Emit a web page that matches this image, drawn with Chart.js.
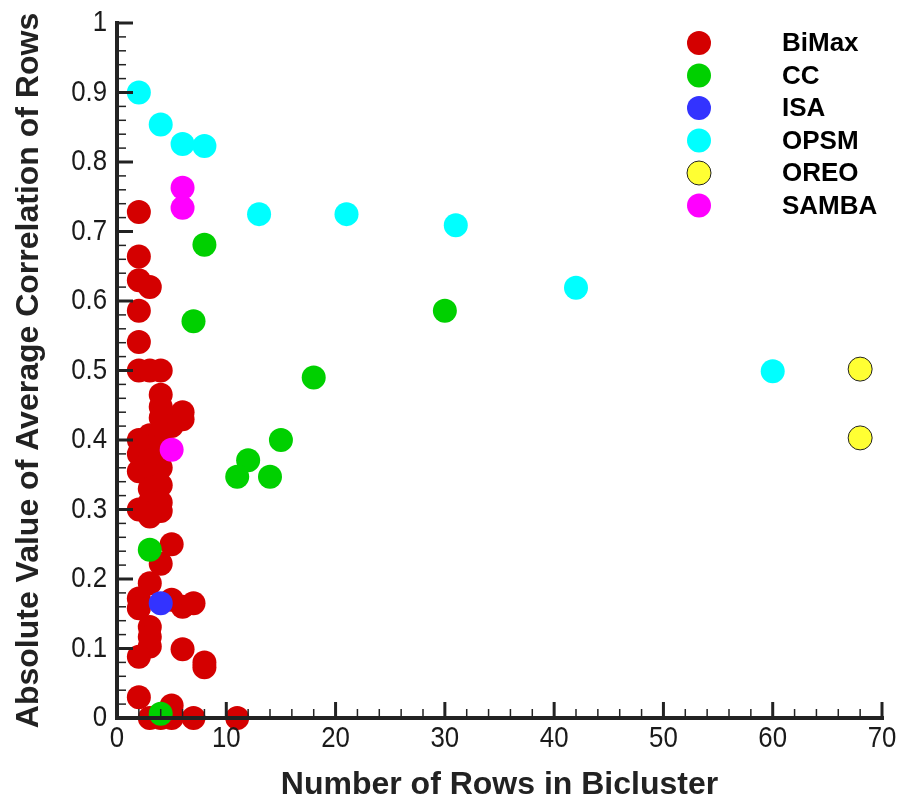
<!DOCTYPE html>
<html lang="en">
<head>
    <meta charset="UTF-8">
    <title>Biclusters: rows vs correlation</title>
    <style>
        body {
            margin: 0;
            padding: 0;
            background: #ffffff;
        }
        #wrap {
            width: 901px;
            height: 803px;
        }
    </style>
    <script src="https://cdn.jsdelivr.net/npm/chart.js"></script>
</head>
<body>
    <div id="wrap"><canvas id="scatter"></canvas></div>

    <script>
        // [rows in bicluster, |avg correlation of rows|]
        const bimax = [
            [2, 0.728], [2, 0.664], [2, 0.630], [3, 0.620], [2, 0.586], [2, 0.541],
            [2, 0.500], [3, 0.500], [4, 0.500],
            [4, 0.465], [4, 0.448], [4, 0.432], [6, 0.440], [6, 0.430], [5, 0.420],
            [2, 0.400], [3, 0.407], [4, 0.410],
            [2, 0.380], [3, 0.390], [4, 0.390], [3, 0.370], [4, 0.360], [2, 0.355],
            [3, 0.350], [4, 0.335], [3, 0.330], [3, 0.310], [4, 0.310], [2, 0.300],
            [4, 0.298], [3, 0.290],
            [5, 0.250], [4, 0.222], [3, 0.194], [2, 0.172], [5, 0.170], [2, 0.158],
            [6, 0.160], [7, 0.165],
            [3, 0.131], [3, 0.117], [3, 0.103], [2, 0.088], [6, 0.099], [8, 0.080], [8, 0.073],
            [2, 0.030], [5, 0.018], [3, 0.000], [4, 0.000], [5, 0.000], [7, 0.000], [11, 0.000]
        ];
        const cc = [
            [8, 0.681], [7, 0.571], [30, 0.586], [18, 0.490], [15, 0.400], [12, 0.371],
            [11, 0.347], [14, 0.347], [3, 0.242], [4, 0.006]
        ];
        const isa = [[4, 0.165]];
        const opsm = [
            [2, 0.900], [4, 0.854], [6, 0.826], [8, 0.823], [13, 0.725], [21, 0.725],
            [31, 0.709], [42, 0.619], [60, 0.499]
        ];
        const oreo = [[68, 0.502], [68, 0.403]];
        const samba = [[6, 0.763], [6, 0.734], [5, 0.386]];

        const seriesNames = ["BiMax", "CC", "ISA", "OPSM", "OREO", "SAMBA"];
        const seriesData = [bimax, cc, isa, opsm, oreo, samba];
        const seriesColors = ["#d40000", "#00d000", "#3333ff", "#00ffff", "#ffff33", "#ff00ff"];

        const xTicks = [0, 10, 20, 30, 40, 50, 60, 70];
        const yTicks = [0, 0.1, 0.2, 0.3, 0.4, 0.5, 0.6, 0.7, 0.8, 0.9, 1];
        const yTickLabels = ["0", "0.1", "0.2", "0.3", "0.4", "0.5", "0.6", "0.7", "0.8", "0.9", "1"];

        const boldFont = "Arial, 'Liberation Sans', sans-serif";

        const datasets = seriesNames.map((name, i) => ({
            label: name,
            data: seriesData[i].map(p => ({ x: p[0], y: p[1] })),
            backgroundColor: seriesColors[i],
            borderColor: name === "OREO" ? "#222222" : seriesColors[i],
            borderWidth: name === "OREO" ? 1 : 0,
            pointRadius: 12,
            pointHoverRadius: 12,
            clip: false,
            order: name === "BiMax" ? 1 : 0
        }));

        // narrow tick labels (no narrow font installed, so squeeze Arial)
        function narrowText(ctx, text, x, y, align) {
            ctx.save();
            ctx.translate(x, y);
            ctx.scale(0.86, 1);
            ctx.textAlign = align;
            ctx.fillText(text, 0, 0);
            ctx.restore();
        }

        // axis lines with inward major/minor ticks, drawn over the points
        const axesPlugin = {
            id: "axes",
            afterDatasetsDraw(chart) {
                const ctx = chart.ctx;
                const xs = chart.scales.x, ys = chart.scales.y;
                const x0 = xs.getPixelForValue(0), y0 = ys.getPixelForValue(0);
                ctx.save();
                ctx.strokeStyle = "#222222";
                ctx.lineCap = "butt";

                for (let v = 0; v <= 70; v += 2) {
                    const major = v % 10 === 0;
                    const px = xs.getPixelForValue(v);
                    ctx.lineWidth = major ? 3 : 1.5;
                    ctx.beginPath();
                    ctx.moveTo(px, y0);
                    ctx.lineTo(px, y0 - (major ? 16 : 9));
                    ctx.stroke();
                }
                for (let k = 0; k <= 50; k++) {
                    const major = k % 5 === 0;
                    const py = ys.getPixelForValue(k * 0.02);
                    ctx.lineWidth = major ? 3 : 1.5;
                    ctx.beginPath();
                    ctx.moveTo(x0, py);
                    ctx.lineTo(x0 + (major ? 16 : 9), py);
                    ctx.stroke();
                }

                ctx.lineWidth = 4;
                ctx.beginPath();
                ctx.moveTo(x0, ys.getPixelForValue(1) - 2);
                ctx.lineTo(x0, y0);
                ctx.lineTo(xs.getPixelForValue(70) + 2, y0);
                ctx.stroke();

                ctx.fillStyle = "#1a1a1a";
                ctx.font = "30px " + boldFont;
                ctx.textBaseline = "middle";
                xTicks.forEach(v => narrowText(ctx, String(v), xs.getPixelForValue(v), 739, "center"));
                yTicks.forEach((v, i) => narrowText(ctx, yTickLabels[i], 107, ys.getPixelForValue(v), "right"));
                ctx.restore();
            }
        };

        const legendPlugin = {
            id: "sideLegend",
            afterDraw(chart) {
                const ctx = chart.ctx;
                ctx.save();
                ctx.font = "bold 26px " + boldFont;
                ctx.textBaseline = "middle";
                ctx.textAlign = "left";
                chart.data.datasets.forEach((ds, i) => {
                    const cy = 43 + i * 32.5;
                    ctx.beginPath();
                    ctx.arc(699, cy, 12, 0, Math.PI * 2);
                    ctx.fillStyle = ds.backgroundColor;
                    ctx.fill();
                    if (ds.borderWidth) {
                        ctx.lineWidth = ds.borderWidth;
                        ctx.strokeStyle = ds.borderColor;
                        ctx.stroke();
                    }
                    ctx.fillStyle = "#000000";
                    ctx.fillText(ds.label, 782, cy + 1);
                });
                ctx.restore();
            }
        };

        new Chart(document.getElementById("scatter"), {
            type: "scatter",
            data: { datasets: datasets },
            plugins: [axesPlugin, legendPlugin],
            options: {
                responsive: true,
                maintainAspectRatio: false,
                animation: false,
                layout: { padding: { top: 23, right: 19, bottom: 0, left: 0 } },
                plugins: {
                    legend: { display: false },
                    tooltip: { enabled: false }
                },
                scales: {
                    x: {
                        type: "linear",
                        min: 0,
                        max: 70,
                        afterFit: s => { s.height = 85; },
                        grid: { display: false },
                        border: { display: false },
                        ticks: { display: false },
                        title: {
                            display: true,
                            text: "Number of Rows in Bicluster",
                            color: "#222222",
                            padding: 0,
                            font: { family: boldFont, size: 32, weight: "bold", lineHeight: 1.1 }
                        }
                    },
                    y: {
                        type: "linear",
                        min: 0,
                        max: 1,
                        afterFit: s => { s.width = 117; },
                        grid: { display: false },
                        border: { display: false },
                        ticks: { display: false },
                        title: {
                            display: true,
                            text: "Absolute Value of Average Correlation of Rows",
                            color: "#222222",
                            padding: { top: 12, bottom: 0 },
                            font: { family: boldFont, size: 32, weight: "bold", lineHeight: 1.1 }
                        }
                    }
                }
            }
        });
    </script>
</body>
</html>
